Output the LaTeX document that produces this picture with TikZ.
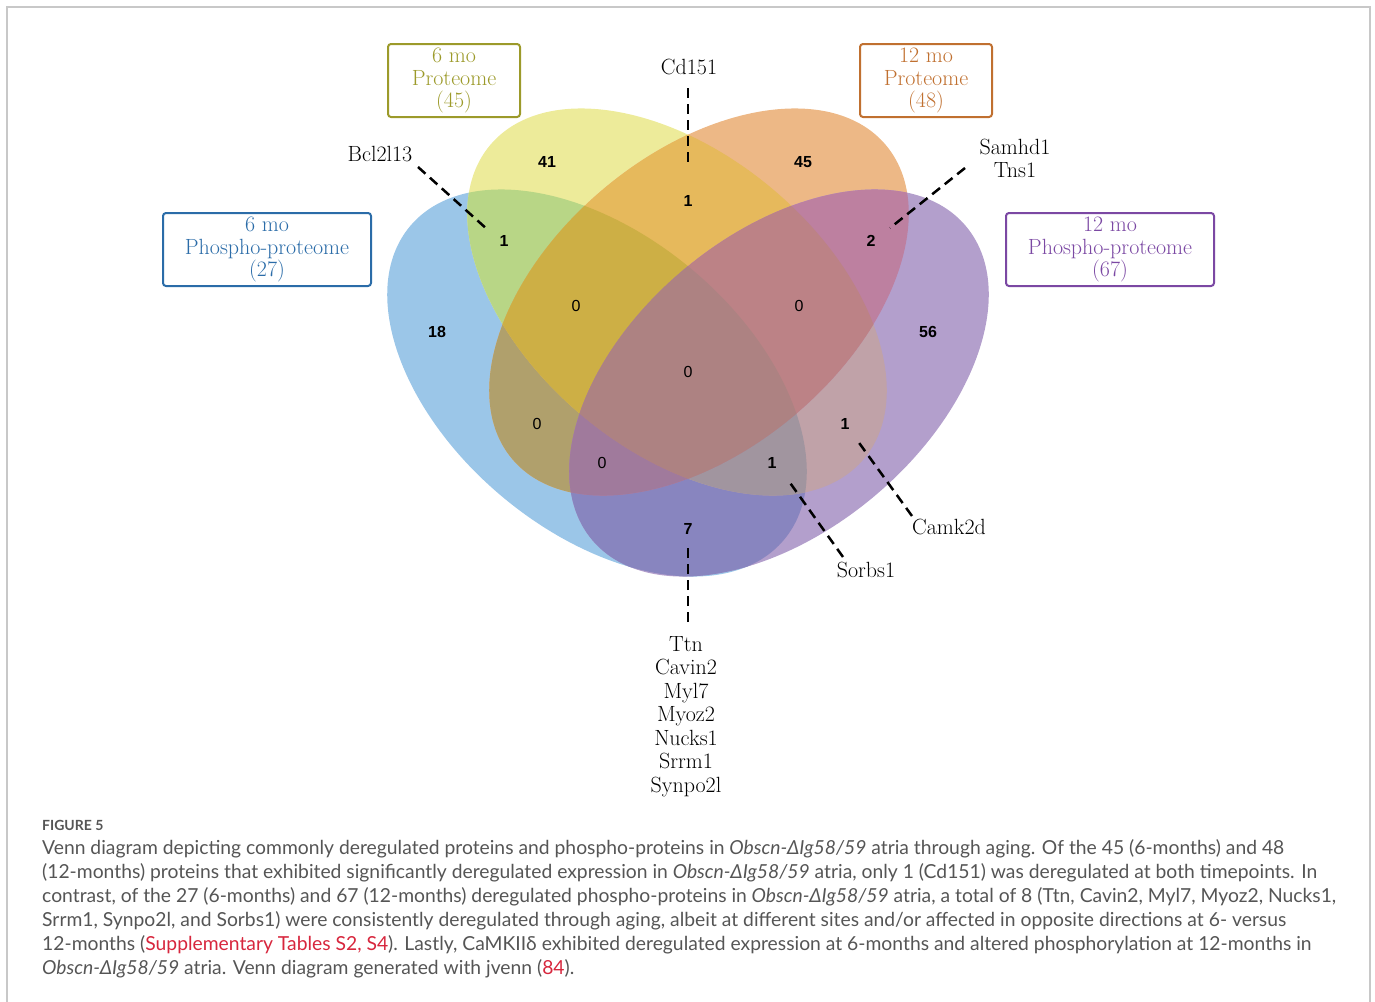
\documentclass[tikz,border=0pt]{standalone}
\usepackage{fontspec}
\newfontfamily\capfont{Lato}
\newfontfamily\numfont{Liberation Sans}
% region colours
\definecolor{rA}{HTML}{9BC6E8}
\definecolor{rB}{HTML}{EDEB9A}
\definecolor{rC}{HTML}{EDB886}
\definecolor{rD}{HTML}{B39FCC}
\definecolor{rAB}{HTML}{B8D686}
\definecolor{rBC}{HTML}{E6B95C}
\definecolor{rCD}{HTML}{BD80A0}
\definecolor{rAD}{HTML}{8885BF}
\definecolor{rAC}{HTML}{B0A06C}
\definecolor{rBD}{HTML}{C0A2A8}
\definecolor{rABC}{HTML}{CDAF45}
\definecolor{rBCD}{HTML}{BC8286}
\definecolor{rACD}{HTML}{A07A9C}
\definecolor{rABD}{HTML}{A1959F}
\definecolor{rABCD}{HTML}{AD8282}
% text colours
\definecolor{tblue}{HTML}{2B6CA8}
\definecolor{tolive}{HTML}{9C9A2A}
\definecolor{torange}{HTML}{C07030}
\definecolor{tpurple}{HTML}{7B48A3}
\definecolor{capgray}{HTML}{555555}
\definecolor{capred}{HTML}{D7263D}
\definecolor{framegray}{HTML}{C8C8C8}
\newcommand\pathA[1]{\path[#1, rotate around={-40:(597,383)}] (597,383) ellipse [x radius=244pt, y radius=148pt];}
\newcommand\pathB[1]{\path[#1, rotate around={-40:(677,302)}] (677,302) ellipse [x radius=244pt, y radius=148pt];}
\newcommand\pathC[1]{\path[#1, rotate around={40:(699,302)}] (699,302) ellipse [x radius=244pt, y radius=148pt];}
\newcommand\pathD[1]{\path[#1, rotate around={40:(779,383)}] (779,383) ellipse [x radius=244pt, y radius=148pt];}
\begin{document}
\begin{tikzpicture}[x=1pt,y=-1pt,
  setbox/.style={draw, line width=2pt, rounded corners=3pt, align=center,
    minimum height=73pt, inner sep=0pt, font=\fontsize{22}{22.5}\selectfont},
  gene/.style={align=center, inner sep=0pt, font=\fontsize{22}{23.5}\selectfont},
  genline/.style={line width=2.5pt, dash pattern=on 10pt off 6pt},
  bnum/.style={inner sep=0pt, font=\numfont\bfseries\fontsize{16}{16}\selectfont},
  znum/.style={inner sep=0pt, font=\numfont\fontsize{16}{16}\selectfont},
  capline/.style={anchor=base west, inner sep=0pt, text=capgray, font=\capfont\fontsize{19.3}{24}\selectfont}
]
\useasboundingbox (0,0) rectangle (1375,1001);
% frame
\draw[framegray, line width=1.5pt] (7,1005) -- (7,7) -- (1370,7) -- (1370,1005);
% single sets
\pathA{fill=rA}
\pathB{fill=rB}
\pathC{fill=rC}
\pathD{fill=rD}
% pairs
\begin{scope}\pathA{clip}\pathB{fill=rAB}\end{scope}
\begin{scope}\pathA{clip}\pathC{fill=rAC}\end{scope}
\begin{scope}\pathA{clip}\pathD{fill=rAD}\end{scope}
\begin{scope}\pathB{clip}\pathC{fill=rBC}\end{scope}
\begin{scope}\pathB{clip}\pathD{fill=rBD}\end{scope}
\begin{scope}\pathC{clip}\pathD{fill=rCD}\end{scope}
% triples
\begin{scope}\pathA{clip}\pathB{clip}\pathC{fill=rABC}\end{scope}
\begin{scope}\pathA{clip}\pathB{clip}\pathD{fill=rABD}\end{scope}
\begin{scope}\pathA{clip}\pathC{clip}\pathD{fill=rACD}\end{scope}
\begin{scope}\pathB{clip}\pathC{clip}\pathD{fill=rBCD}\end{scope}
% all four
\begin{scope}\pathA{clip}\pathB{clip}\pathC{clip}\pathD{fill=rABCD}\end{scope}
% set boxes
\node[setbox, tolive, minimum width=132pt] (b6p) at (454,80.5) {6 mo\\Proteome\\(45)};
\node[setbox, torange, minimum width=132pt] (b12p) at (926,80.5) {12 mo\\Proteome\\(48)};
\node[setbox, tblue, minimum width=208pt] (b6ph) at (267,249.5) {6 mo\\Phospho-proteome\\(27)};
\node[setbox, tpurple, minimum width=208pt] (b12ph) at (1110,249.5) {12 mo\\Phospho-proteome\\(67)};
% region counts
\node[bnum] (n18) at (437,332) {18};
\node[bnum] (n41) at (547,162) {41};
\node[bnum] (n45) at (803,162) {45};
\node[bnum] (n56) at (928,332) {56};
\node[bnum] (nab) at (504,241) {1};
\node[bnum] (nbc) at (688,201) {1};
\node[bnum] (ncd) at (871,241) {2};
\node[znum] (nabc) at (576,306) {0};
\node[znum] (nbcd) at (799,306) {0};
\node[znum] (nall) at (688,372) {0};
\node[znum] (nac) at (537,424) {0};
\node[bnum] (nbd) at (845,424) {1};
\node[znum] (nacd) at (602,463) {0};
\node[bnum] (nabd) at (772,463) {1};
\node[bnum] (nad) at (688,529) {7};
% gene labels
\node[gene] (cd151) at (689,67) {Cd151};
\node[gene] (bcl) at (380,154) {Bcl2l13};
\node[gene] (samhd) at (1015,158.5) {Samhd1\\Tns1};
\node[gene] (camk) at (949,527) {Camk2d};
\node[gene] (sorbs) at (866,570) {Sorbs1};
\node[gene, anchor=north] (ttn) at (686,636) {Ttn\\Cavin2\\Myl7\\Myoz2\\Nucks1\\Srrm1\\Synpo2l};
% connector ends
\coordinate (cdE) at (688,162);
\coordinate (bclE) at (488,230);
\coordinate (samE) at (890,228);
\coordinate (camE) at (857,440);
\coordinate (sorE) at (788,480);
\coordinate (ttnE) at (688,548);
\draw[genline] (688,88) -- (cdE);
\draw[genline] (418,167) -- (bclE);
\draw[genline] (965,168) -- (samE);
\draw[genline] (912,516) -- (camE);
\draw[genline] (843,557) -- (sorE);
\draw[genline] (688,622) -- (ttnE);
% caption
\node[anchor=base west, inner sep=0pt, text=capgray, font=\capfont\bfseries\fontsize{14}{14}\selectfont] (fig) at (42,830) {FIGURE 5};
\node[capline] (c1) at (42,854) {Venn diagram depicting commonly deregulated proteins and phospho-proteins in \textit{Obscn-ΔIg58/59} atria through aging. Of the 45 (6-months) and 48};
\node[capline] (c2) at (42,878) {(12-months) proteins that exhibited significantly deregulated expression in \textit{Obscn-ΔIg58/59} atria, only 1 (Cd151) was deregulated at both timepoints. In};
\node[capline] (c3) at (42,902) {contrast, of the 27 (6-months) and 67 (12-months) deregulated phospho-proteins in \textit{Obscn-ΔIg58/59} atria, a total of 8 (Ttn, Cavin2, Myl7, Myoz2, Nucks1,};
\node[capline] (c4) at (42,926) {Srrm1, Synpo2l, and Sorbs1) were consistently deregulated through aging, albeit at different sites and/or affected in opposite directions at 6- versus};
\node[capline] (c5) at (42,950) {12-months (\textcolor{capred}{Supplementary Tables S2, S4}). Lastly, CaMKIIδ exhibited deregulated expression at 6-months and altered phosphorylation at 12-months in};
\node[capline] (c6) at (42,974) {\textit{Obscn-ΔIg58/59} atria. Venn diagram generated with jvenn (\textcolor{capred}{84}).};
\end{tikzpicture}
\end{document}
